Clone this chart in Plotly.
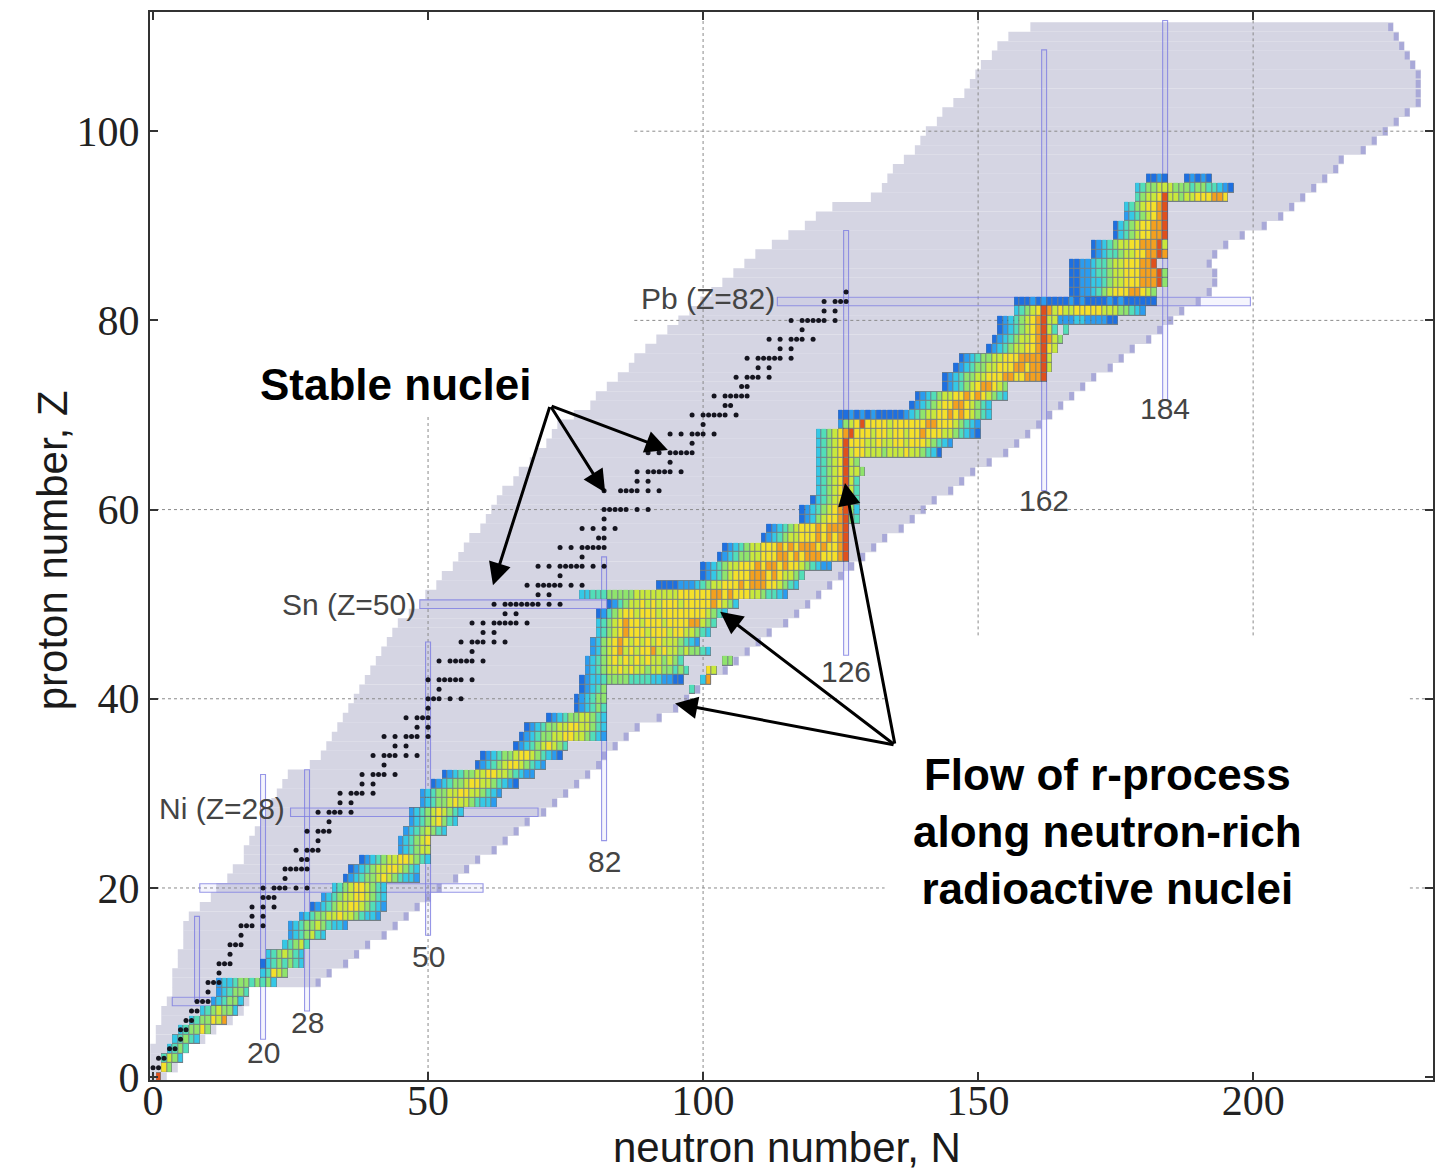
import numpy as np
import plotly.graph_objects as go

# ------------------------------------------------------------------ data
# Extent of the nuclide chart (grey region) for each proton number Z
Z_ROWS = list(range(112))
N_MIN = [0, 0, 0, 0, 1, 1, 2, 2, 3, 4,
         4, 4, 5, 5, 6, 6, 6, 7, 9, 11,
         12, 14, 15, 17, 17, 18, 19, 20, 21, 22,
         23, 24, 25, 29, 31, 32, 33, 34, 35, 36,
         37, 38, 39, 40, 41, 42, 43, 44, 45, 47,
         49, 50, 52, 53, 55, 56, 57, 58, 60, 61,
         62, 63, 64, 66, 67, 69, 70, 72, 73, 74,
         77, 80, 81, 83, 85, 87, 88, 90, 92, 94,
         96, 98, 100, 102, 104, 106, 108, 110, 113, 116,
         119, 121, 124, 131, 133, 134, 135, 137, 139, 140,
         141, 143, 144, 146, 148, 149, 150, 151, 153, 154,
         156, 160]
N_MAX = [2, 4, 5, 6, 9, 11, 14, 16, 17, 17,
         30, 32, 35, 37, 39, 42, 44, 46, 48, 50,
         52, 55, 57, 59, 62, 64, 66, 68, 71, 73,
         75, 77, 79, 81, 82, 84, 86, 88, 92, 95,
         97, 99, 101, 104, 106, 108, 110, 112, 115, 117,
         119, 121, 123, 125, 127, 129, 131, 133, 136, 138,
         140, 142, 145, 147, 149, 152, 155, 157, 159, 161,
         163, 165, 167, 169, 171, 174, 176, 178, 181, 183,
         185, 187, 190, 192, 193, 193, 192, 193, 195, 198,
         202, 205, 207, 209, 211, 213, 215, 216, 220, 222,
         224, 226, 228, 230, 230, 230, 230, 229, 228, 227,
         226, 225]
DRIP_FROM_Z = 10

# Stable nuclei: proton number and the neutron numbers of its stable isotopes
STABLE_Z = list(range(1, 84))
STABLE_N = [
    [0, 1], [1, 2], [3, 4], [5], [5, 6], [6, 7], [7, 8], [8, 9, 10], [10], [10, 11, 12],
    [12], [12, 13, 14], [14], [14, 15, 16], [16], [16, 17, 18, 20], [18, 20], [18, 20, 22],
    [20, 21, 22], [20, 22, 23, 24, 26, 28], [24], [24, 25, 26, 27, 28], [27, 28],
    [26, 28, 29, 30], [30], [28, 30, 31, 32], [32], [30, 32, 33, 34, 36], [34, 36],
    [34, 36, 37, 38, 40], [38, 40], [38, 40, 41, 42, 44], [42], [40, 42, 43, 44, 46, 48],
    [44, 46], [42, 44, 46, 47, 48, 50], [48, 50], [46, 48, 49, 50], [50],
    [50, 51, 52, 54, 56], [52], [50, 52, 53, 54, 55, 56, 58], [],
    [52, 54, 55, 56, 57, 58, 60], [58], [56, 58, 59, 60, 62, 64], [60, 62],
    [58, 60, 62, 63, 64, 65, 66, 68], [64, 66], [62, 64, 65, 66, 67, 68, 69, 70, 72, 74],
    [70, 72], [68, 70, 71, 72, 73, 74, 76, 78], [74], [70, 72, 74, 75, 76, 77, 78, 80, 82],
    [78], [74, 76, 78, 79, 80, 81, 82], [81, 82], [78, 80, 82, 84], [82],
    [82, 83, 84, 85, 86, 88, 90], [], [82, 85, 86, 87, 88, 90, 92], [88, 90],
    [88, 90, 91, 92, 93, 94, 96], [94], [90, 92, 94, 95, 96, 97, 98], [98],
    [94, 96, 98, 99, 100, 102], [100], [98, 100, 101, 102, 103, 104, 106], [104, 105],
    [102, 104, 105, 106, 107, 108], [107, 108], [106, 108, 109, 110, 112], [110, 112],
    [108, 110, 111, 112, 113, 114, 116], [114, 116], [112, 114, 116, 117, 118, 120], [118],
    [116, 118, 119, 120, 121, 122, 124], [122, 124], [122, 124, 125, 126], [126],
]

# r-process flow: row Z, first neutron number, abundance class (1..9) cell by cell
FLOW_Z = [0, 1, 2, 3, 4, 5, 6, 7, 8, 9,
          10, 11, 12, 13, 14, 15, 16, 17, 18, 19,
          20, 21, 22, 23, 24, 25, 26, 27, 28, 29,
          30, 31, 32, 33, 34, 35, 36, 37, 38, 39,
          40, 41, 41, 42, 42, 43, 43, 44, 44, 45,
          46, 47, 48, 49, 50, 51, 52, 53, 54, 55,
          56, 57, 58, 59, 60, 61, 62, 63, 64, 65,
          66, 67, 68, 69, 70, 71, 72, 73, 74, 75,
          76, 77, 78, 79, 79, 80, 81, 82, 83, 84,
          85, 86, 87, 88, 89, 90, 91, 92, 93, 94,
          95, 95]
FLOW_N0 = [1, 2, 2, 3, 4, 5, 7, 9, 11, 12,
           12, 20, 20, 21, 24, 25, 25, 27, 29, 31,
           33, 35, 36, 38, 45, 45, 46, 47, 47, 49,
           49, 51, 53, 59, 60, 66, 67, 68, 72, 77,
           77, 78, 98, 78, 100, 79, 101, 79, 104, 80,
           80, 81, 81, 81, 83, 78, 92, 100, 100, 103,
           104, 111, 112, 118, 118, 120, 121, 121, 121, 121,
           121, 121, 121, 125, 125, 138, 139, 144, 144, 146,
           147, 152, 153, 154, 166, 154, 157, 157, 167, 167,
           167, 167, 171, 171, 175, 175, 177, 177, 179, 179,
           181, 188]
FLOW_CELLS = [
    "9", "75", "4653", "3454", "34543", "345575", "3455768", "3456553", "234553", "234554",
    "23345545453", "34765", "13454543", "3456543", "34564", "2345643", "23455654332",
    "234556676654332", "12345667765432", "234566776543",
    "3456776543", "12345567654332", "1234566776543", "1234566776543", "234566", "234567",
    "23456543", "234567543", "2345676543", "23455676654332",
    "234556677665432", "1234556776654321", "12345566776654322", "1234567765432",
    "123455677654321", "1234567654", "1234556677665432", "123455667766543", "12345566543",
    "123454",
    "123455", "12345", "4", "1233455554444332211", "38", "2345667676656655454", "76",
    "234567676767665654", "55", "2356786767786766565543",
    "23567876767676665432", "345678777677767766543", "3456787767776777788654",
    "124567767776777777776543", "124566767677767777787653",
    "33444555556666666677777788787776654432", "11112223456677787888776543",
    "1234567778887876654", "123456677787887877654322", "123455667778878788877789",
    "12345667778787888787789", "1234566777878789", "123456777878889", "12356778954",
    "12345678953", "134567964", "34567964", "34567964", "345679665", "34567965",
    "34567967766656667665431", "3456797776676677677765432",
    "345678977767767767787776654321", "25679777767777778877765432",
    "1121212111112345667787876543", "123456778876543", "12345667787876543",
    "123456788765", "1234556677788778889", "123455667778878896",
    "12345566777888896", "1234566778976", "1234566789865", "12345678964", "4",
    "1234567896622233222211", "345679867667777766655432", "11121211112121111212111111",
    "1122345677788765", "112233456677788895",
    "112234456677788895", "1122344566777889", "12344566778898", "12345667788896",
    "1345677889", "1345677889", "23456789", "34567789", "45667966566777887",
    "345566655545544321",
    "1121", "12121",
]

# magic numbers and the extent of their guide lines
MAGIC_N = [8, 20, 28, 50, 82, 126, 162, 184]
MAGIC_N_ZLO = [8, 4, 7, 15, 25, 44.6, 62, 71.6]
MAGIC_N_ZHI = [17, 32, 32.5, 46, 55, 89.5, 108.6, 111.7]
MAGIC_Z = [8, 20, 28, 50, 82]
MAGIC_Z_NLO = [3.5, 8.5, 25, 48.5, 113.5]
MAGIC_Z_NHI = [16, 60, 70, 83, 199.5]
MAGIC_LABELS = ["20", "28", "50", "82", "126", "162", "184"]
MAGIC_LABEL_N = [20, 28, 50, 82, 126, 162, 184]
MAGIC_LABEL_Z = [2.6, 5.8, 12.8, 22.8, 42.9, 61.0, 70.7]
ELEMENT_LABELS = ["Ni (Z=28)", "Sn (Z=50)", "Pb (Z=82)"]
ELEMENT_LABEL_N = [24.4, 48.2, 113.5]
ELEMENT_LABEL_Z = [28.4, 50.0, 82.3]

X_TICKS = [0, 50, 100, 150, 200]
Y_TICKS = [0, 20, 40, 60, 80, 100]
X_RANGE = [-0.55, 232.7]
Y_RANGE = [-0.3, 112.6]

# ------------------------------------------------------------------ figure
fig = go.Figure()
shapes = []

GREY = "#d5d5e3"
DRIP = "#a9a9d8"
for z, n0, n1 in zip(Z_ROWS, N_MIN, N_MAX):
    shapes.append(dict(type="rect", xref="x", yref="y", layer="below",
                       x0=n0 - 0.5, x1=n1 + 0.5, y0=z - 0.5, y1=z + 0.52,
                       fillcolor=GREY, line=dict(width=0)))
for z, n1 in zip(Z_ROWS, N_MAX):
    if z >= DRIP_FROM_Z:
        shapes.append(dict(type="rect", xref="x", yref="y", layer="below",
                           x0=n1 - 0.45, x1=n1 + 0.45, y0=z - 0.42, y1=z + 0.42,
                           fillcolor=DRIP, line=dict(width=0)))

# dotted grid (partly erased in the original picture)
GRID = dict(color="#8a8a8a", width=1, dash="dot")
grid_v = [(50, Y_RANGE[0], 70), (100, Y_RANGE[0], Y_RANGE[1]),
          (150, 46.7, Y_RANGE[1]), (200, 46.7, Y_RANGE[1])]
grid_h = [(20, X_RANGE[0], 133), (20, 228.5, X_RANGE[1]),
          (40, X_RANGE[0], 133), (40, 228.5, X_RANGE[1]),
          (60, X_RANGE[0], X_RANGE[1]),
          (80, 87.5, X_RANGE[1]), (100, 87.5, X_RANGE[1])]
for xv, ya, yb in grid_v:
    shapes.append(dict(type="line", xref="x", yref="y", layer="between",
                       x0=xv, x1=xv, y0=ya, y1=yb, line=GRID))
for yv, xa, xb in grid_h:
    shapes.append(dict(type="line", xref="x", yref="y", layer="between",
                       x0=xa, x1=xb, y0=yv, y1=yv, line=GRID))

MAGIC_LINE = dict(color="rgba(125,125,225,0.8)", width=1.1)
for n, za, zb in zip(MAGIC_N, MAGIC_N_ZLO, MAGIC_N_ZHI):
    shapes.append(dict(type="rect", xref="x", yref="y", layer="between",
                       x0=n - 0.45, x1=n + 0.45, y0=za, y1=zb,
                       fillcolor="rgba(160,160,235,0.10)", line=MAGIC_LINE))
for z, na, nb in zip(MAGIC_Z, MAGIC_Z_NLO, MAGIC_Z_NHI):
    shapes.append(dict(type="rect", xref="x", yref="y", layer="between",
                       x0=na, x1=nb, y0=z - 0.45, y1=z + 0.45,
                       fillcolor="rgba(160,160,235,0.10)", line=MAGIC_LINE))

# r-process flow heat map
n_cols, z_rows = 200, 96
flow = np.full((z_rows, n_cols), np.nan)
for z, n0, cells in zip(FLOW_Z, FLOW_N0, FLOW_CELLS):
    for i, c in enumerate(cells):
        flow[z, n0 + i] = int(c)
mask = np.where(np.isnan(flow), np.nan, 1.0)

fig.add_trace(go.Heatmap(
    x=list(range(n_cols)), y=list(range(z_rows)), z=mask,
    colorscale=[[0, "rgba(35,55,55,0.55)"], [1, "rgba(35,55,55,0.55)"]],
    zmin=0, zmax=1, showscale=False, hoverinfo="skip"))

FLOW_COLORS = ["#1e6fe0", "#2a9cf0", "#35c8e6", "#52deb8", "#8fe46c",
               "#c8e83c", "#f5e02a", "#f4a01e", "#e0501c"]
cs = []
for k, col in enumerate(FLOW_COLORS):
    cs.append([k / 9, col])
    cs.append([(k + 1) / 9, col])
fig.add_trace(go.Heatmap(
    x=list(range(n_cols)), y=list(range(z_rows)), z=flow,
    colorscale=cs, zmin=0.5, zmax=9.5, xgap=1, ygap=1,
    showscale=False, hoverinfo="skip"))

# stable nuclei
sx, sy = [], []
for z, ns in zip(STABLE_Z, STABLE_N):
    for n in ns:
        sx.append(n)
        sy.append(z)
fig.add_trace(go.Scatter(x=sx, y=sy, mode="markers",
                         marker=dict(size=5, color="#15151f", line=dict(width=0)),
                         hoverinfo="skip", showlegend=False))

# ------------------------------------------------------------------ annotations
ann = []
LBL = dict(family="Liberation Sans, Arial, sans-serif", size=30, color="#444444")
for t, n, z in zip(MAGIC_LABELS, MAGIC_LABEL_N, MAGIC_LABEL_Z):
    ann.append(dict(x=n, y=z, xref="x", yref="y", text=t, showarrow=False,
                    font=LBL, xanchor="center", yanchor="middle"))
for t, n, z in zip(ELEMENT_LABELS, ELEMENT_LABEL_N, ELEMENT_LABEL_Z):
    ann.append(dict(x=n, y=z, xref="x", yref="y", text=t, showarrow=False,
                    font=LBL, xanchor="right", yanchor="middle"))

BOLD = dict(family="Liberation Sans, Arial, sans-serif", size=44, color="#000000")
ann.append(dict(x=44.0, y=73.2, xref="x", yref="y", text="<b>Stable nuclei</b>",
                showarrow=False, font=BOLD, xanchor="center", yanchor="middle"))
ann.append(dict(x=173.5, y=26.0, xref="x", yref="y",
                text="<b>Flow of r-process<br>along neutron-rich<br>radioactive nuclei</b>",
                showarrow=False, font=BOLD, xanchor="center", yanchor="middle",
                align="center"))

ARROW = dict(showarrow=True, arrowhead=2, arrowsize=1.5, arrowwidth=3,
             arrowcolor="#000000", text="", xref="x", yref="y",
             axref="x", ayref="y", standoff=0, startstandoff=0)
for tip in [(61.8, 52.0), (82.2, 61.8), (93.6, 66.3)]:
    ann.append(dict(x=tip[0], y=tip[1], ax=72.2, ay=71.0, **ARROW))
for tip in [(103.1, 49.2), (125.8, 62.8), (94.9, 39.5)]:
    ann.append(dict(x=tip[0], y=tip[1], ax=134.9, ay=35.1, **ARROW))

TITLE = dict(family="Liberation Sans, Arial, sans-serif", size=42, color="#1a1a1a")
ann.append(dict(x=0.4965, y=-0.0635, xref="paper", yref="paper",
                text="neutron number, N", showarrow=False, font=TITLE,
                xanchor="center", yanchor="middle"))
ann.append(dict(x=-0.0764, y=0.496, xref="paper", yref="paper",
                text="proton number, Z", showarrow=False, font=TITLE,
                textangle=-90, xanchor="center", yanchor="middle"))

TICKFONT = dict(family="Liberation Serif, Times New Roman, serif", size=42, color="#222222")
fig.update_layout(
    width=1441, height=1170,
    margin=dict(l=150, r=8, t=12, b=90),
    paper_bgcolor="white", plot_bgcolor="white",
    showlegend=False,
    shapes=shapes, annotations=ann,
    xaxis=dict(range=X_RANGE, tickvals=X_TICKS, showgrid=False, zeroline=False,
               showline=True, linecolor="#333333", linewidth=2, mirror="ticks",
               ticks="inside", ticklen=8, tickcolor="#333333", tickwidth=1.5,
               tickfont=TICKFONT, automargin=False, ticklabelstandoff=-17),
    yaxis=dict(range=Y_RANGE, tickvals=Y_TICKS, showgrid=False, zeroline=False,
               showline=True, linecolor="#333333", linewidth=2, mirror="ticks",
               ticks="inside", ticklen=8, tickcolor="#333333", tickwidth=1.5,
               tickfont=TICKFONT, automargin=False, ticklabelstandoff=0),
)

fig.write_html("out.html")
